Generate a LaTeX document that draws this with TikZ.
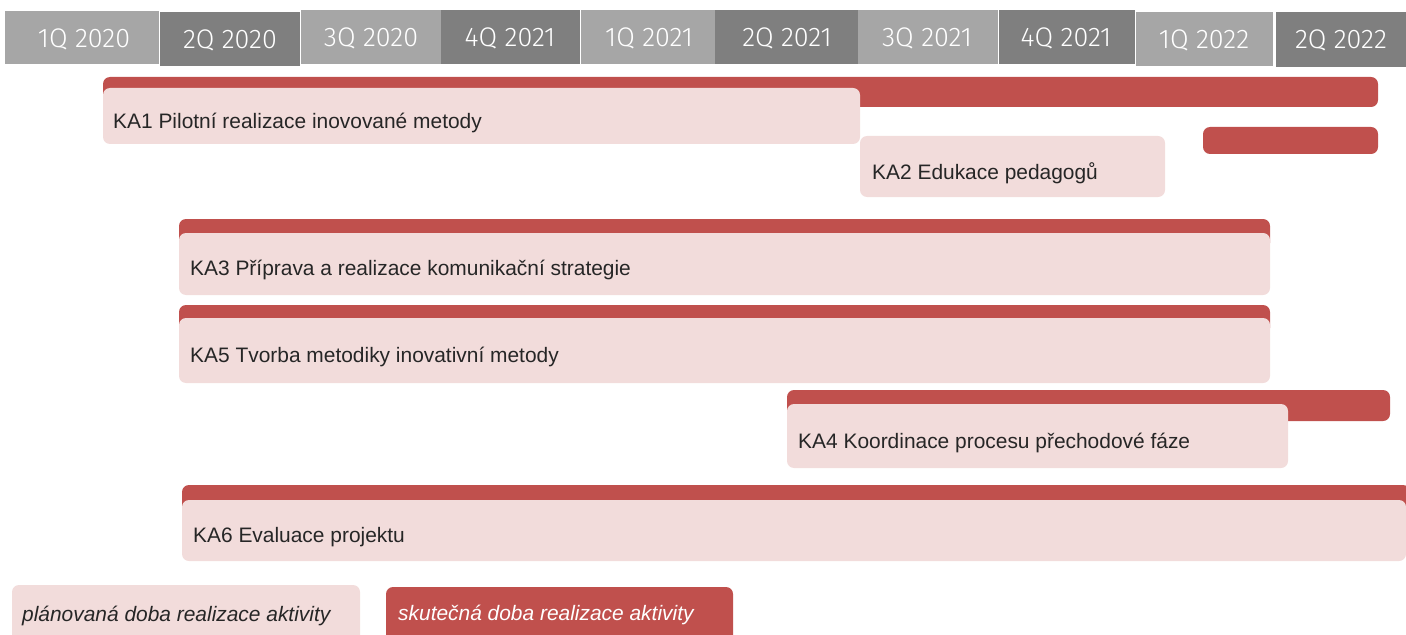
\documentclass[tikz,border=0pt]{standalone}
\usepackage{fontspec}
\setmainfont{Liberation Sans}
\newfontfamily\hfont{Fira Sans Light}
\definecolor{hlight}{HTML}{A6A6A6}
\definecolor{hdark}{HTML}{7F7F7F}
\definecolor{actual}{HTML}{C0504D}
\definecolor{planned}{HTML}{F2DCDB}
\definecolor{txt}{HTML}{262626}
\tikzset{
  hl/.style={fill=hlight, draw=none},
  hd/.style={fill=hdark, draw=none},
  htext/.style={text=white, font=\hfont\fontsize{27}{30}\selectfont, inner sep=0pt},
  actualbar/.style={fill=actual, draw=none, rounded corners=7bp},
  plannedbar/.style={fill=planned, draw=none, rounded corners=7bp},
  ktext/.style={text=txt, font=\fontsize{21}{24}\selectfont, anchor=west, inner sep=0pt},
}
\begin{document}
\begin{tikzpicture}[x=1bp, y=-1bp]
\useasboundingbox (0,0) rectangle (1406,635);
% header
\path[hl] (5,11) rectangle (159,64);
\path[hd] (160,12) rectangle (300,66);
\path[hl] (301,10) rectangle (441,64);
\path[hd] (441,10) rectangle (580,64);
\path[hl] (581,10) rectangle (720,64);
\path[hd] (715,10) rectangle (858,64);
\path[hl] (858,10) rectangle (998,64);
\path[hd] (999,10) rectangle (1135,64);
\path[hl] (1136,12) rectangle (1273,66);
\path[hd] (1276,12) rectangle (1406,67);
\node[htext] (h1) at (84,39) {1Q 2020};
\node[htext] (h2) at (230,40) {2Q 2020};
\node[htext] (h3) at (371,38) {3Q 2020};
\node[htext] (h4) at (510,38) {4Q 2021};
\node[htext] (h5) at (649,38) {1Q 2021};
\node[htext] (h6) at (787,38) {2Q 2021};
\node[htext] (h7) at (927,38) {3Q 2021};
\node[htext] (h8) at (1066,38) {4Q 2021};
\node[htext] (h9) at (1204,40) {1Q 2022};
\node[htext] (h10) at (1341,40) {2Q 2022};
% KA1
\path[actualbar] (103,77) rectangle (1378,107);
\path[plannedbar] (103,88) rectangle (860,144);
\node[ktext] (k1) at (113,123) {KA1 Pilotní realizace inovované metody};
% KA2
\path[actualbar] (1203,127) rectangle (1378,154);
\path[plannedbar] (860,136) rectangle (1165,197);
\node[ktext] (k2) at (872,173) {KA2 Edukace pedagogů};
% KA3
\path[actualbar] (179,219) rectangle (1270,250);
\path[plannedbar] (179,233) rectangle (1270,295);
\node[ktext] (k3) at (190,270) {KA3 Příprava a realizace komunikační strategie};
% KA5
\path[actualbar] (179,305) rectangle (1270,335);
\path[plannedbar] (179,318) rectangle (1270,383);
\node[ktext] (k5) at (190,357) {KA5 Tvorba metodiky inovativní metody};
% KA4
\path[actualbar] (787,390) rectangle (1390,421);
\path[plannedbar] (787,404) rectangle (1288,468);
\node[ktext] (k4) at (798,443) {KA4 Koordinace procesu přechodové fáze};
% KA6
\path[actualbar] (182,485) rectangle (1410,515);
\path[plannedbar] (182,500) rectangle (1406,561);
\node[ktext] (k6) at (193,537) {KA6 Evaluace projektu};
% legend
\path[plannedbar] (12,585) rectangle (360,645);
\node[ktext, font=\fontsize{21}{24}\selectfont\itshape] (lp) at (22,616) {plánovaná doba realizace aktivity};
\path[actualbar] (386,587) rectangle (733,645);
\node[ktext, text=white, font=\fontsize{21}{24}\selectfont\itshape] (la) at (398,615) {skutečná doba realizace aktivity};
\end{tikzpicture}
\end{document}
